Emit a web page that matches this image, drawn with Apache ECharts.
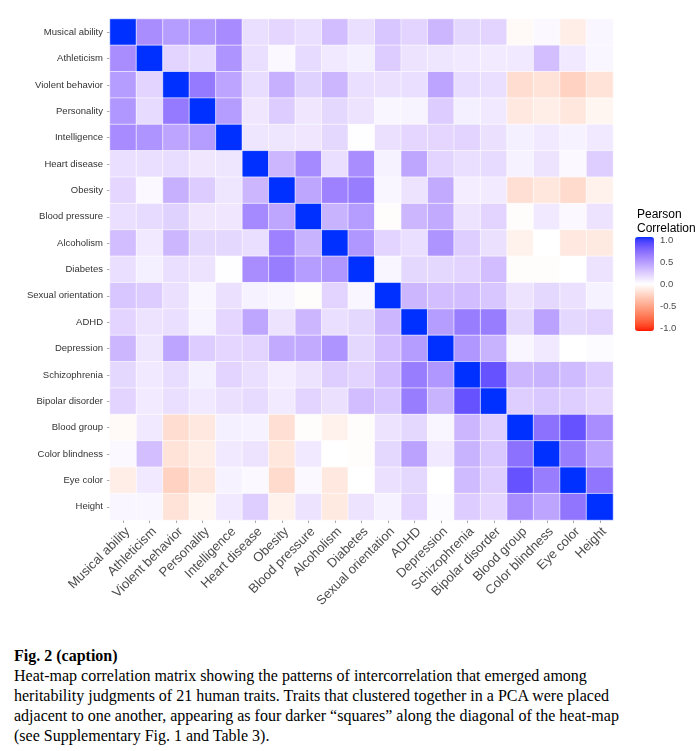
<!DOCTYPE html>
<html><head><meta charset="utf-8">
<script src="https://cdn.jsdelivr.net/npm/echarts@6/dist/echarts.min.js"></script>
<style>
html,body{margin:0;padding:0;background:#fff;}
#chart{position:absolute;left:0;top:0;width:699px;height:640px;}
#caption{position:absolute;left:14px;top:646px;font-family:'Liberation Serif','Times New Roman',serif;font-size:16px;line-height:20px;color:#000;white-space:nowrap;}
</style></head><body>
<div id="chart"></div>
<div id="caption"><b>Fig. 2 (caption)</b><br>Heat-map correlation matrix showing the patterns of intercorrelation that emerged among<br>heritability judgments of 21 human traits. Traits that clustered together in a PCA were placed<br>adjacent to one another, appearing as four darker “squares” along the diagonal of the heat-map<br>(see Supplementary Fig. 1 and Table 3).</div>
<script>
const traits = ['Musical ability','Athleticism','Violent behavior','Personality','Intelligence','Heart disease','Obesity','Blood pressure','Alcoholism','Diabetes','Sexual orientation','ADHD','Depression','Schizophrenia','Bipolar disorder','Blood group','Color blindness','Eye color','Height'];

const rowMusical     = [1, .54, .47, .50, .55, .15, .19, .15, .31, .15, .27, .20, .34, .18, .20, -.03, .03, -.09, .04];
const rowAthleticism = [.54, 1, .20, .17, .51, .15, .03, .17, .10, .07, .24, .13, .12, .10, .09, .10, .30, .10, .04];
const rowViolent     = [.47, .20, 1, .64, .43, .16, .37, .21, .34, .15, .14, .15, .43, .16, .15, -.18, -.15, -.24, -.15];
const rowPersonality = [.50, .17, .64, 1, .47, .11, .24, .11, .18, .13, .04, .05, .24, .07, .10, -.12, -.09, -.13, -.05];
const rowIntelligence= [.55, .51, .43, .47, 1, .12, .12, .11, .18, .01, .14, .19, .19, .20, .14, .07, .10, .06, .10];
const rowHeart       = [.15, .15, .16, .11, .12, 1, .34, .56, .15, .54, .06, .42, .20, .15, .17, .06, .13, .03, .23];
const rowObesity     = [.19, .03, .37, .24, .12, .34, 1, .42, .60, .62, .04, .13, .40, .08, .09, -.17, -.13, -.19, -.07];
const rowBloodPress  = [.15, .17, .21, .11, .11, .56, .42, 1, .36, .47, -.01, .34, .40, .13, .20, -.01, .10, .03, .13];
const rowAlcoholism  = [.31, .10, .34, .18, .18, .15, .60, .36, 1, .50, .20, .15, .51, .23, .14, -.07, .00, -.12, -.11];
const rowDiabetes    = [.15, .07, .15, .13, .01, .54, .62, .47, .50, 1, .04, .18, .18, .20, .31, -.01, -.01, .00, .13];
const rowSexual      = [.27, .24, .14, .04, .14, .06, .04, -.01, .20, .04, 1, .34, .30, .31, .27, .13, .18, .14, .06];
const rowADHD        = [.20, .13, .15, .05, .19, .42, .13, .34, .15, .18, .34, 1, .47, .62, .62, .18, .44, .18, .20];
const rowDepression  = [.34, .12, .43, .24, .19, .20, .40, .40, .51, .18, .30, .47, 1, .50, .36, .04, .10, .00, .02];
const rowSchizo      = [.18, .10, .16, .07, .20, .15, .08, .13, .23, .20, .31, .62, .50, 1, .83, .34, .36, .32, .24];
const rowBipolar     = [.20, .09, .15, .10, .14, .17, .09, .20, .14, .31, .27, .62, .36, .83, 1, .23, .26, .23, .19];
const rowBloodGroup  = [-.03, .10, -.18, -.12, .07, .06, -.17, -.01, -.07, -.01, .13, .18, .04, .34, .23, 1, .68, .83, .54];
const rowColorBlind  = [.03, .30, -.15, -.09, .10, .13, -.13, .10, .00, -.01, .18, .44, .10, .36, .26, .68, 1, .62, .43];
const rowEyeColor    = [-.09, .10, -.24, -.13, .06, .03, -.19, .03, -.12, .00, .14, .18, .00, .32, .23, .83, .62, 1, .66];
const rowHeight      = [.04, .04, -.15, -.05, .10, .23, -.07, .13, -.11, .13, .06, .20, .02, .24, .19, .54, .43, .66, 1];

const corrRows = [rowMusical,rowAthleticism,rowViolent,rowPersonality,rowIntelligence,rowHeart,rowObesity,rowBloodPress,rowAlcoholism,rowDiabetes,rowSexual,rowADHD,rowDepression,rowSchizo,rowBipolar,rowBloodGroup,rowColorBlind,rowEyeColor,rowHeight];

const colorLow = '#ff1500', colorMid = '#ffffff', colorHigh = '#0030ff';

// Lab interpolation (as ggplot2 gradient2)
function s2l(c){c/=255;return c<=0.04045?c/12.92:Math.pow((c+0.055)/1.055,2.4);}
function l2s(c){c=Math.max(0,Math.min(1,c));return Math.round(255*(c<=0.0031308?12.92*c:1.055*Math.pow(c,1/2.4)-0.055));}
const Xn=0.95047,Yn=1,Zn=1.08883;
function f(t){return t>0.008856?Math.cbrt(t):7.787*t+16/116;}
function fi(t){return t>0.206893?t*t*t:(t-16/116)/7.787;}
function hexToLab(h){
  const r=s2l(parseInt(h.substr(1,2),16)),g=s2l(parseInt(h.substr(3,2),16)),b=s2l(parseInt(h.substr(5,2),16));
  const X=0.4124*r+0.3576*g+0.1805*b,Y=0.2126*r+0.7152*g+0.0722*b,Z=0.0193*r+0.1192*g+0.9505*b;
  const fx=f(X/Xn),fy=f(Y/Yn),fz=f(Z/Zn);
  return [116*fy-16,500*(fx-fy),200*(fy-fz)];
}
function labToHex(L,a,b){
  const fy=(L+16)/116,fx=fy+a/500,fz=fy-b/200;
  const X=Xn*fi(fx),Y=Yn*fi(fy),Z=Zn*fi(fz);
  const r=3.2406*X-1.5372*Y-0.4986*Z,g=-0.9689*X+1.8758*Y+0.0415*Z,bb=0.0557*X-0.2040*Y+1.0570*Z;
  return 'rgb('+l2s(r)+','+l2s(g)+','+l2s(bb)+')';
}
const labLow=hexToLab(colorLow),labMid=hexToLab(colorMid),labHigh=hexToLab(colorHigh);
const stops=[];
for(let k=0;k<=40;k++){
  const t=-1+k*0.05;
  let A,B,w;
  if(t<0){A=labLow;B=labMid;w=t+1;}else{A=labMid;B=labHigh;w=t;}
  stops.push(labToHex(A[0]+(B[0]-A[0])*w,A[1]+(B[1]-A[1])*w,A[2]+(B[2]-A[2])*w));
}

const cells=[];
corrRows.forEach((row,i)=>row.forEach((v,j)=>cells.push([j,i,v])));

const chart=echarts.init(document.getElementById('chart'),null,{renderer:'canvas'});
const FONT='Liberation Sans, Arial, sans-serif';
chart.setOption({
  animation:false,
  backgroundColor:'#fff',
  textStyle:{fontFamily:FONT},
  title:{text:'Pearson\nCorrelation',left:637,top:208,padding:0,
    textStyle:{fontSize:12,fontWeight:'normal',color:'#000',lineHeight:13.5,fontFamily:FONT}},
  grid:[{left:110,top:19,width:503,height:501},{left:635,top:240,width:19,height:88}],
  xAxis:[{gridIndex:0,type:'category',data:traits,position:'bottom',
      axisLine:{show:false},
      axisTick:{show:true,alignWithLabel:true,length:3,lineStyle:{color:'#aaa'}},
      splitLine:{show:false},
      axisLabel:{interval:0,rotate:45,align:'right',verticalAlign:'top',fontSize:13,color:'#4d4d4d',margin:5,fontFamily:FONT}},
    {gridIndex:1,type:'value',show:false,min:0,max:1}],
  yAxis:[{gridIndex:0,type:'category',data:traits,inverse:true,
      axisLine:{show:false},
      axisTick:{show:true,alignWithLabel:true,length:3,lineStyle:{color:'#aaa'}},
      splitLine:{show:false},
      axisLabel:{interval:0,fontSize:9.5,color:'#333',margin:7,fontFamily:FONT}},
    {gridIndex:1,type:'value',min:-1,max:1,interval:0.5,position:'right',
      axisLine:{show:false},axisTick:{show:false},splitLine:{show:false},
      axisLabel:{fontSize:9.5,color:'#4d4d4d',margin:6,formatter:v=>v.toFixed(1),fontFamily:FONT}}],
  visualMap:{type:'continuous',min:-1,max:1,seriesIndex:0,calculable:false,hoverLink:false,
    left:635,top:237,itemWidth:19,itemHeight:94,padding:0,orient:'vertical',
    inRange:{color:stops}},
  series:[{type:'heatmap',xAxisIndex:0,yAxisIndex:0,data:cells,
    itemStyle:{borderColor:'#fff',borderWidth:0.6},
    emphasis:{disabled:true}}]
});
</script>
</body></html>
